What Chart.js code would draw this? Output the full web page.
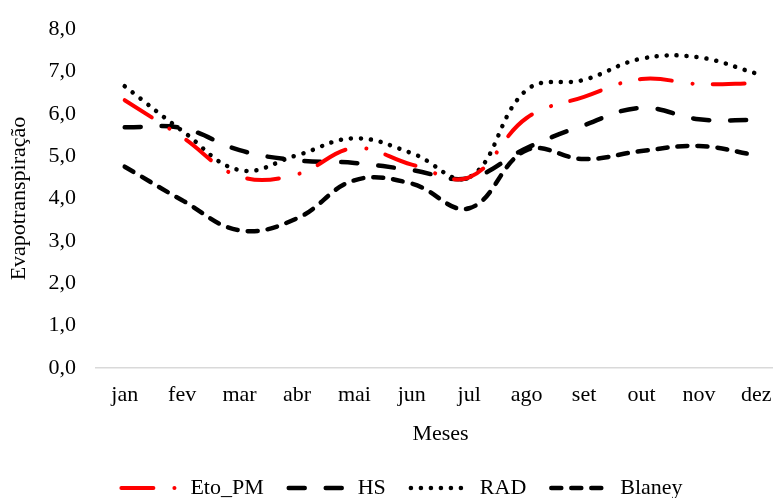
<!DOCTYPE html>
<html>
<head>
<meta charset="utf-8">
<script src="https://cdn.jsdelivr.net/npm/chart.js@4.4.0/dist/chart.umd.min.js"></script>
<style>
  html, body { margin: 0; padding: 0; background: #fff; overflow: hidden; }
  #wrap { width: 804px; height: 509px; }
</style>
</head>
<body>
<div id="wrap"><canvas id="lineChart"></canvas></div>
<script>
const months = ['jan', 'fev', 'mar', 'abr', 'mai', 'jun', 'jul', 'ago', 'set', 'out', 'nov', 'dez'];
const yTicks = ['0,0', '1,0', '2,0', '3,0', '4,0', '5,0', '6,0', '7,0', '8,0'];

const etoPM = [6.32, 5.45, 4.52, 4.57, 5.19, 4.8, 4.5, 5.9, 6.4, 6.82, 6.7, 6.72];
const hs = [5.68, 5.66, 5.14, 4.9, 4.84, 4.67, 4.48, 5.19, 5.73, 6.14, 5.87, 5.85];
const rad = [6.65, 5.6, 4.67, 5.02, 5.42, 5.07, 4.5, 6.56, 6.8, 7.3, 7.33, 6.95];
const blaney = [4.75, 3.96, 3.25, 3.53, 4.43, 4.35, 3.77, 5.14, 4.93, 5.12, 5.24, 5.02];

Chart.defaults.font.family = "'Liberation Serif', 'Times New Roman', serif";
Chart.defaults.font.size = 22;
Chart.defaults.color = '#000';

// line look shared by all series
function serie(label, data, color, width, dash) {
    return {
        label: label,
        data: data,
        borderColor: color,
        backgroundColor: color,
        borderWidth: width,
        borderDash: dash,
        borderCapStyle: 'round',
        pointRadius: 0,
        pointHoverRadius: 0,
        tension: 0.4,
        fill: false
    };
}

new Chart('lineChart', {
    type: 'line',
    data: {
        labels: months,
        datasets: [
            serie('Eto_PM', etoPM, '#ff0000', 4, [32, 21, 0.1, 20]),
            serie('HS', hs, '#000000', 4.5, [16, 21]),
            serie('RAD', rad, '#000000', 4.5, [0.1, 9.9]),
            serie('Blaney', blaney, '#000000', 4.5, [10, 10])
        ]
    },
    options: {
        responsive: true,
        maintainAspectRatio: false,
        animation: false,
        layout: {
            padding: { left: 19, right: 19, top: 29, bottom: 0 }
        },
        plugins: {
            tooltip: { enabled: false },
            legend: {
                position: 'bottom',
                labels: {
                    usePointStyle: true,
                    pointStyle: 'line',
                    pointStyleWidth: 58,
                    padding: 25,
                    font: { size: 22 },
                    // legend samples keep the dash of their line
                    generateLabels: function (chart) {
                        const items = Chart.defaults.plugins.legend.labels.generateLabels(chart);
                        items.forEach(function (item, i) {
                            const ds = chart.data.datasets[i];
                            item.lineDash = ds.borderDash;
                            item.lineWidth = ds.borderWidth;
                            item.lineCap = 'round';
                            item.strokeStyle = ds.borderColor;
                        });
                        return items;
                    }
                }
            }
        },
        scales: {
            x: {
                offset: true,
                grid: { display: false, drawTicks: false },
                border: { display: true, color: '#d9d9d9', width: 1.5 },
                ticks: { padding: 14, maxRotation: 0, autoSkip: false },
                title: {
                    display: true,
                    text: 'Meses',
                    padding: { top: 0, bottom: 5 }
                },
                afterFit: function (scale) { scale.height = 84; }
            },
            y: {
                min: 0,
                max: 8,
                grid: { display: false, drawTicks: false },
                border: { display: false },
                ticks: {
                    stepSize: 1,
                    padding: 20,
                    callback: function (value, index) { return yTicks[index]; }
                },
                title: {
                    display: true,
                    text: 'Evapotranspiração',
                    padding: { top: -12.7, bottom: 0 }
                },
                afterFit: function (scale) {
                    scale.width = 77;
                    scale.paddingTop = 0;
                    scale.paddingBottom = 0;
                }
            }
        }
    }
});
</script>
</body>
</html>
